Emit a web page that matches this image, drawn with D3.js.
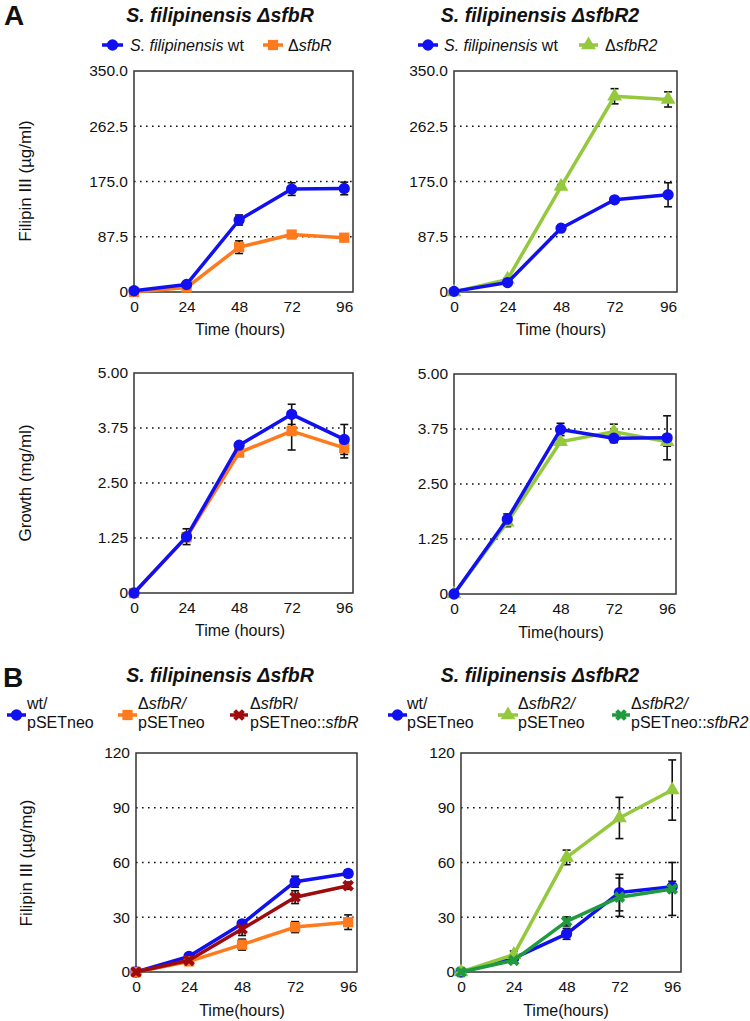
<!DOCTYPE html>
<html><head><meta charset="utf-8">
<script src="https://cdn.jsdelivr.net/npm/d3@7"></script>
<style>body{margin:0;background:#fff} text{font-family:"Liberation Sans",Arial,sans-serif;fill:#111}</style>
</head><body><svg id="c" width="750" height="1021"></svg>
<script>
// ---------- data ----------
const times = [0, 24, 48, 72, 96];
const xTickLabels = ["0", "24", "48", "72", "96"];

const filipinTicks = [0, 87.5, 175, 262.5, 350];
const filipinTickLabels = ["0", "87.5", "175.0", "262.5", "350.0"];
const growthTicks = [0, 1.25, 2.5, 3.75, 5];
const growthTickLabels = ["0", "1.25", "2.50", "3.75", "5.00"];
const specTicks = [0, 30, 60, 90, 120];
const specTickLabels = ["0", "30", "60", "90", "120"];

// Panel A, Filipin III (µg/ml)
const a1Wt = [2, 12, 114, 163, 164];
const a1WtErr = [0, 2, 8, 10, 10];
const a1Mut = [0, 7, 71, 91, 86];
const a1MutErr = [0, 2, 10, 3, 3];

const a2Wt = [1, 15, 101, 146, 154];
const a2WtErr = [0, 2, 2, 3, 19];
const a2Mut = [0, 20, 167, 310, 305];
const a2MutErr = [0, 2, 3, 12, 12];

// Panel A, Growth (mg/ml)
const a3Wt = [0, 1.28, 3.36, 4.06, 3.49];
const a3WtErr = [0, 0.18, 0.05, 0.23, 0.34];
const a3Mut = [0, 1.27, 3.19, 3.68, 3.30];
const a3MutErr = [0, 0.1, 0.05, 0.43, 0.23];

const a4Wt = [0, 1.70, 3.74, 3.54, 3.55];
const a4WtErr = [0, 0.12, 0.14, 0.1, 0.5];
const a4Mut = [0, 1.63, 3.46, 3.69, 3.46];
const a4MutErr = [0, 0.1, 0.05, 0.17, 0.1];

// Panel B, Filipin III (µg/mg)
const b1Wt = [0, 8.6, 26.4, 49.5, 54];
const b1WtErr = [0, 1, 1.5, 3, 2];
const b1Mut = [0, 5.8, 15, 24.6, 27.3];
const b1MutErr = [0, 1, 3, 3, 4];
const b1Comp = [0, 6.4, 23.5, 41, 47.3];
const b1CompErr = [0, 1, 3.5, 3.5, 2];

const b2Wt = [0, 7.6, 20.9, 43.5, 46.7];
const b2WtErr = [0, 1, 3, 10, 3];
const b2Mut = [0, 9.5, 62.8, 84.4, 99.7];
const b2MutErr = [0, 2, 4, 11.3, 16.5];
const b2Comp = [0, 6.4, 27.7, 41, 45.5];
const b2CompErr = [0, 1, 2.5, 10.5, 14.5];

// ---------- styles ----------
const C = {blue:"#1010f0", orange:"#ff7a1c", lime:"#94c93d", dred:"#9e0b0f", dgreen:"#1f9a3f"};
const SYM = {
  circle: {type: d3.symbolCircle, size: 100, rot: 0},
  square: {type: d3.symbolSquare, size: 105, rot: 0},
  triangle: {type: d3.symbolTriangle, size: 95, rot: 0},
  cross: {type: d3.symbolCross, size: 85, rot: 45}
};

const svg = d3.select("#c");

function panel(p) {
  const g = svg.append("g");
  const x = d3.scaleLinear().domain([0, 100]).range([p.left, p.right]);
  const y = d3.scaleLinear().domain([0, p.ticks[p.ticks.length - 1]]).range([p.bottom, p.top]);

  // dotted grid
  g.selectAll(null).data(p.ticks.slice(1, -1)).join("line")
    .attr("x1", p.left).attr("x2", p.right)
    .attr("y1", d => y(d)).attr("y2", d => y(d))
    .attr("stroke", "#111").attr("stroke-width", 1.6)
    .attr("stroke-dasharray", "1.6,4.4");

  // axes
  const ya = g.append("g").attr("transform", `translate(${p.left},0)`)
    .call(d3.axisLeft(y).tickValues(p.ticks).tickFormat((d, i) => p.labels[i]).tickSize(0).tickPadding(6));
  const xa = g.append("g").attr("transform", `translate(0,${p.bottom})`)
    .call(d3.axisBottom(x).tickValues(times).tickFormat((d, i) => xTickLabels[i]).tickSize(0).tickPadding(9));
  [ya, xa].forEach(a => {
    a.select(".domain").remove();
    a.selectAll("text").attr("font-size", 15.5).attr("fill", "#111")
      .attr("font-family", '"Liberation Sans",Arial,sans-serif');
  });

  // frame
  g.append("rect").attr("x", p.left).attr("y", p.top)
    .attr("width", p.right - p.left).attr("height", p.bottom - p.top)
    .attr("fill", "none").attr("stroke", "#333").attr("stroke-width", 1.5);

  // error bars beneath the lines and markers
  p.series.forEach(s => {
    const pts = times.map((t, i) => ({t, v: s.values[i], e: s.err[i]})).filter(d => d.e > 0);
    const eg = g.append("g").attr("stroke", "#111").attr("stroke-width", 1.6);
    eg.selectAll(null).data(pts).join("line")
      .attr("x1", d => x(d.t)).attr("x2", d => x(d.t))
      .attr("y1", d => y(d.v - d.e)).attr("y2", d => y(d.v + d.e));
    [1, -1].forEach(sg => {
      eg.selectAll(null).data(pts).join("line")
        .attr("x1", d => x(d.t) - 4).attr("x2", d => x(d.t) + 4)
        .attr("y1", d => y(d.v + sg * d.e)).attr("y2", d => y(d.v + sg * d.e));
    });
  });

  const line = d3.line().x(d => x(d.t)).y(d => y(d.v));
  p.series.forEach(s => {
    const pts = times.map((t, i) => ({t, v: s.values[i], e: s.err[i]}));
    g.append("path").datum(pts).attr("d", line)
      .attr("fill", "none").attr("stroke", s.color).attr("stroke-width", 3.5)
      .attr("stroke-linejoin", "round");
    const sy = SYM[s.sym];
    g.selectAll(null).data(pts).join("path")
      .attr("d", d3.symbol(sy.type, sy.size))
      .attr("transform", d => `translate(${x(d.t)},${y(d.v)}) rotate(${sy.rot})`)
      .attr("fill", s.color);
  });

  // x label
  svg.append("text").attr("x", p.xlx).attr("y", p.xly).attr("text-anchor", "middle")
    .attr("font-size", 16).text(p.xLabel);
  if (p.yLabel) {
    svg.append("text").attr("transform", `translate(${p.ylx},${p.yly}) rotate(-90)`)
      .attr("text-anchor", "middle").attr("font-size", 17).text(p.yLabel);
  }
}

function rich(sel, parts) {
  parts.forEach(pt => {
    const t = sel.append("tspan").text(pt[0]);
    if (pt[1]) t.attr("font-style", "italic");
  });
}

function legendItem(x1, x2, y, color, sym, tx, lines) {
  svg.append("line").attr("x1", x1).attr("x2", x2).attr("y1", y).attr("y2", y)
    .attr("stroke", color).attr("stroke-width", 3.5);
  const sy = SYM[sym];
  svg.append("path").attr("d", d3.symbol(sy.type, sy.size)())
    .attr("transform", `translate(${(x1 + x2) / 2},${y}) rotate(${sy.rot})`).attr("fill", color);
  lines.forEach(l => {
    const t = svg.append("text").attr("x", tx).attr("y", l.y).attr("font-size", 16);
    rich(t, l.parts);
  });
}

function title(cx, y, txt) {
  svg.append("text").attr("x", cx).attr("y", y).attr("text-anchor", "middle")
    .attr("font-size", 19.5).attr("font-weight", "bold").attr("font-style", "italic").text(txt);
}

// ---------- Panel letters & titles ----------
svg.append("text").attr("x", 4).attr("y", 25).attr("font-size", 28).attr("font-weight", "bold").text("A");
svg.append("text").attr("x", 3).attr("y", 687).attr("font-size", 28).attr("font-weight", "bold").text("B");
title(220, 22, "S. filipinensis ΔsfbR");
title(540, 22, "S. filipinensis ΔsfbR2");
title(220, 682, "S. filipinensis ΔsfbR");
title(540, 682, "S. filipinensis ΔsfbR2");

// ---------- legends A ----------
legendItem(102, 123, 45, C.blue, "circle", 130, [{y: 50.5, parts: [["S. filipinensis", true], [" wt", false]]}]);
legendItem(263, 283, 45, C.orange, "square", 288, [{y: 50.5, parts: [["Δ", false], ["sfbR", true]]}]);
legendItem(418, 438, 45, C.blue, "circle", 444, [{y: 50.5, parts: [["S. filipinensis", true], [" wt", false]]}]);
legendItem(579, 598, 45, C.lime, "triangle", 605, [{y: 50.5, parts: [["Δ", false], ["sfbR2", true]]}]);

// ---------- legends B ----------
legendItem(7, 26, 715, C.blue, "circle", 27, [{y: 709, parts: [["wt/", false]]}, {y: 728, parts: [["pSETneo", false]]}]);
legendItem(118, 137, 715, C.orange, "square", 138, [{y: 709, parts: [["Δ", false], ["sfbR/", true]]}, {y: 728, parts: [["pSETneo", false]]}]);
legendItem(230, 248, 715, C.dred, "cross", 250, [{y: 709, parts: [["Δ", false], ["sfb", true], ["R/", false]]}, {y: 728, parts: [["pSETneo::", false], ["sfbR", true]]}]);
legendItem(388, 407, 715, C.blue, "circle", 407, [{y: 709, parts: [["wt/", false]]}, {y: 728, parts: [["pSETneo", false]]}]);
legendItem(498, 518, 715, C.lime, "triangle", 518, [{y: 709, parts: [["Δ", false], ["sfbR2/", true]]}, {y: 728, parts: [["pSETneo", false]]}]);
legendItem(612, 630, 715, C.dgreen, "cross", 631, [{y: 709, parts: [["Δ", false], ["sfbR2/", true]]}, {y: 728, parts: [["pSETneo::", false], ["sfbR2", true]]}]);

// ---------- panels ----------
panel({left: 134, right: 353, top: 71, bottom: 292, ticks: filipinTicks, labels: filipinTickLabels,
  xLabel: "Time (hours)", xlx: 240, xly: 335, yLabel: "Filipin III (µg/ml)", ylx: 31, yly: 181,
  series: [{values: a1Mut, err: a1MutErr, color: C.orange, sym: "square"},
           {values: a1Wt, err: a1WtErr, color: C.blue, sym: "circle"}]});
panel({left: 454, right: 677, top: 71, bottom: 292, ticks: filipinTicks, labels: filipinTickLabels,
  xLabel: "Time (hours)", xlx: 561, xly: 335,
  series: [{values: a2Mut, err: a2MutErr, color: C.lime, sym: "triangle"},
           {values: a2Wt, err: a2WtErr, color: C.blue, sym: "circle"}]});
panel({left: 134, right: 353, top: 373, bottom: 593, ticks: growthTicks, labels: growthTickLabels,
  xLabel: "Time (hours)", xlx: 240, xly: 636, yLabel: "Growth (mg/ml)", ylx: 31, yly: 483,
  series: [{values: a3Mut, err: a3MutErr, color: C.orange, sym: "square"},
           {values: a3Wt, err: a3WtErr, color: C.blue, sym: "circle"}]});
panel({left: 454, right: 676, top: 374, bottom: 594, ticks: growthTicks, labels: growthTickLabels,
  xLabel: "Time(hours)", xlx: 561, xly: 638,
  series: [{values: a4Mut, err: a4MutErr, color: C.lime, sym: "triangle"},
           {values: a4Wt, err: a4WtErr, color: C.blue, sym: "circle"}]});
panel({left: 136, right: 357, top: 753, bottom: 972, ticks: specTicks, labels: specTickLabels,
  xLabel: "Time(hours)", xlx: 242, xly: 1016, yLabel: "Filipin III (µg/mg)", ylx: 32, yly: 863,
  series: [{values: b1Wt, err: b1WtErr, color: C.blue, sym: "circle"},
           {values: b1Mut, err: b1MutErr, color: C.orange, sym: "square"},
           {values: b1Comp, err: b1CompErr, color: C.dred, sym: "cross"}]});
panel({left: 461, right: 681, top: 753, bottom: 972, ticks: specTicks, labels: specTickLabels,
  xLabel: "Time(hours)", xlx: 566, xly: 1016,
  series: [{values: b2Wt, err: b2WtErr, color: C.blue, sym: "circle"},
           {values: b2Mut, err: b2MutErr, color: C.lime, sym: "triangle"},
           {values: b2Comp, err: b2CompErr, color: C.dgreen, sym: "cross"}]});
</script></body></html>
